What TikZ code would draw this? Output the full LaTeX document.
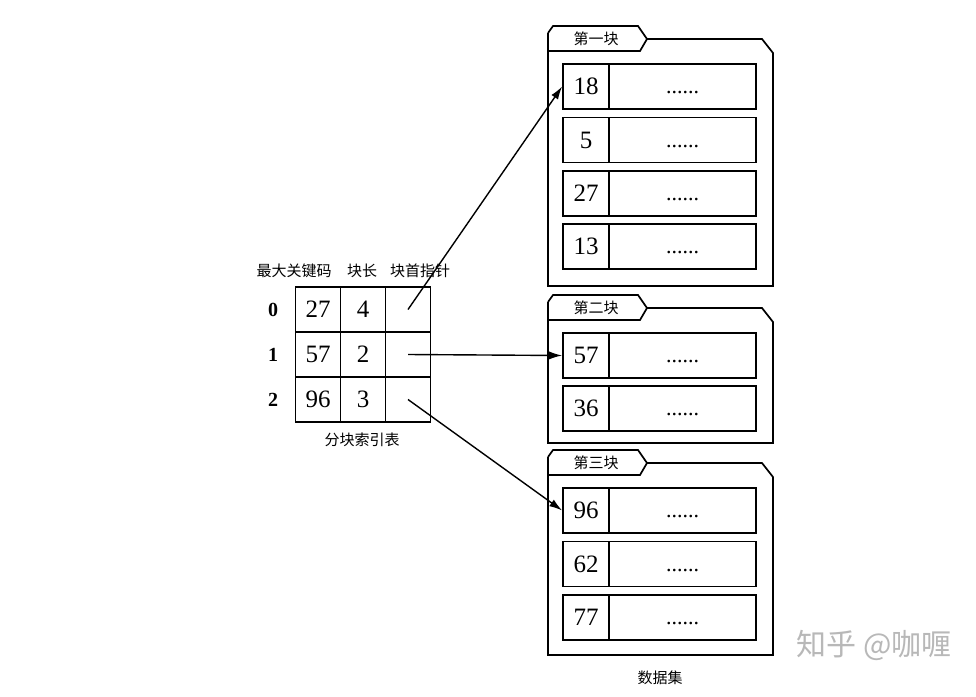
\documentclass[tikz,border=0pt]{standalone}
\usepackage{fontspec}
\setmainfont{Liberation Serif}
\newfontfamily\cjk{Noto Sans CJK SC}
\usetikzlibrary{arrows.meta}
\newcommand\drow[3]{%
  \node[keycell] (#1k) at (586,#2+22.5) {#3};
  \node[dotcell] (#1d) at (682.5,#2+22.5) {......};
}
\newcommand\blockframe[4]{%
  \draw[frame] (548,#1+7) -- (553,#1) -- (638,#1) -- (647,#1+13) -- (640,#1+25) -- (548,#1+25);
  \draw[frame] (647,#1+13) -- (762,#1+13) -- (773,#1+27) -- (773,#2) -- (548,#2) -- (548,#1+7);
  \node[tablabel] (#4) at (596,#1+13) {#3};
}
\begin{document}
\begin{tikzpicture}[x=1pt,y=-1pt,
  frame/.style={draw, line width=1.7pt, line join=miter},
  cell/.style={draw, line width=1.7pt, minimum width=45pt, minimum height=45pt, inner sep=0pt, font=\fontsize{25}{27}\selectfont},
  keycell/.style={draw, line width=1.7pt, minimum width=46pt, minimum height=45pt, inner sep=0pt, font=\fontsize{25}{27}\selectfont},
  dotcell/.style={draw, line width=1.7pt, minimum width=147pt, minimum height=45pt, inner sep=0pt, text height=18pt, text depth=4pt, font=\fontsize{22}{24}\selectfont},
  tablabel/.style={font=\cjk\fontsize{15}{17}\selectfont, inner sep=0pt},
  lab/.style={font=\cjk\fontsize{15}{17}\selectfont, inner sep=0pt},
  idx/.style={font=\bfseries\fontsize{20}{22}\selectfont, inner sep=0pt},
  arr/.style={line width=1.4pt, -{Latex[length=13pt,width=8pt]}}
]
\useasboundingbox[fill=white] (0,0) rectangle (976,696);

% index table
\node[lab] (h1) at (294,271) {最大关键码};
\node[lab] (h2) at (362,271) {块长};
\node[lab] (h3) at (420,271) {块首指针};

\node[cell] (k0) at (318,309.5) {27};
\node[cell] (l0) at (363,309.5) {4};
\node[cell] (p0) at (408,309.5) {};
\node[cell] (k1) at (318,354.5) {57};
\node[cell] (l1) at (363,354.5) {2};
\node[cell] (p1) at (408,354.5) {};
\node[cell] (k2) at (318,399.5) {96};
\node[cell] (l2) at (363,399.5) {3};
\node[cell] (p2) at (408,399.5) {};

\node[idx] (i0) at (273,309.5) {0};
\node[idx] (i1) at (273,354.5) {1};
\node[idx] (i2) at (273,399.5) {2};

\node[lab] (tcap) at (362,440) {分块索引表};

% block 1
\blockframe{26}{286}{\cjk 第一块}{t1}
\drow{ba}{64}{18}
\drow{bb}{117.5}{5}
\drow{bc}{171}{27}
\drow{bd}{224}{13}

% block 2
\blockframe{295}{443}{\cjk 第二块}{t2}
\drow{ca}{333}{57}
\drow{cb}{386}{36}

% block 3
\blockframe{450}{655}{\cjk 第三块}{t3}
\drow{da}{488}{96}
\drow{db}{541.5}{62}
\drow{dc}{595}{77}

\node[lab] (dcap) at (660,678) {数据集};

% pointers
\draw[arr] (p0.center) -- (bak.west);
\draw[arr] (p1.center) -- (cak.west);
\draw[arr] (p2.center) -- (dak.west);

% watermark
\node[font=\cjk\fontsize{30}{32}\selectfont, text=black!28, inner sep=0pt] (wm) at (874,645) {知乎 @咖喱};
\end{tikzpicture}
\end{document}
